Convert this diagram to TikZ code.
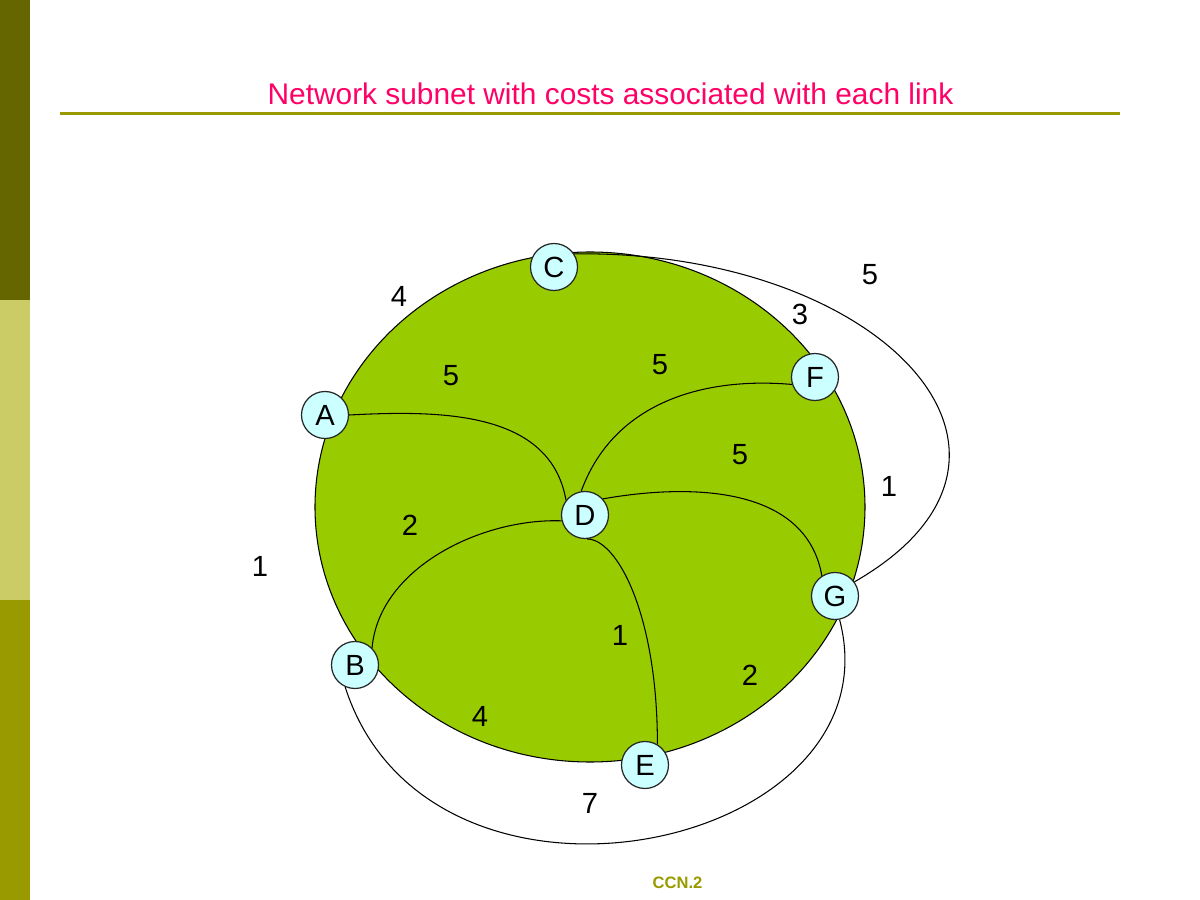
\documentclass[tikz,border=0pt]{standalone}
\usepackage{fontspec}
\setmainfont{Liberation Sans}

\definecolor{barDark}{HTML}{666600}
\definecolor{barLight}{HTML}{CCCC66}
\definecolor{barMid}{HTML}{999900}
\definecolor{titlePink}{HTML}{FF0066}
\definecolor{subnetGreen}{HTML}{99CC00}
\definecolor{routerCyan}{HTML}{CCFFFF}

\tikzset{
    router/.style={circle, draw=black!85, line width=0.35pt, fill=routerCyan,
        minimum size=0.47cm, inner sep=0pt, font=\fontsize{8.3}{9}\selectfont},
    cost/.style={inner sep=0pt, font=\fontsize{8.3}{9}\selectfont},
    link/.style={line width=0.3pt}
}

\begin{document}
\begin{tikzpicture}
    \useasboundingbox (0,0) rectangle (12,9);

    % Side bar and title
    \fill[barDark]  (0,6) rectangle (0.3,9);
    \fill[barLight] (0,3) rectangle (0.3,6);
    \fill[barMid]   (0,0) rectangle (0.3,3);
    \node[anchor=base, text=titlePink, inner sep=0pt, font=\fontsize{8.5}{10}\selectfont]
        (title) at (6.105,7.95) {Network subnet with costs associated with each link};
    \draw[barMid, line width=0.85pt] (0.6,7.867) -- (11.2,7.867);

    % The subnet
    \filldraw[subnetGreen, draw=black, line width=0.3pt] (5.9,3.93) ellipse (2.75 and 2.55);

    % Routers
    \node[router] (C) at (5.54,6.33) {C};
    \node[router] (A) at (3.25,4.85) {A};
    \node[router] (F) at (8.15,5.23) {F};
    \node[router] (D) at (5.85,3.85) {D};
    \node[router] (G) at (8.35,3.04) {G};
    \node[router] (B) at (3.55,2.35) {B};
    \node[router] (E) at (6.45,1.35) {E};

    % Links through D
    \draw[link] (A.east) to[out=3, in=100] (D.142);
    \draw[link] (D.99) to[out=70, in=175] (F.198);
    \draw[link] (D.42) to[out=10, in=100] (G.123);
    \draw[link] (D.194) to[out=178, in=85, looseness=0.9] (B.45);
    \draw[link] (D.-85) .. controls +(0.3,0) and +(0,1.3) .. (E.59);

    % Outer links
    \draw[link] (C.33) .. controls +(3.06,0.04) and +(2.21,1.27) .. (G.36);
    \draw[link] (G.281) .. controls +(0.605,-2.31) and +(0.846,-2.635) .. (B.246);

    % Costs
    \node[cost] (c-cg) at (8.70,6.25) {5};
    \node[cost] (c-cf) at (8.00,5.86) {3};
    \node[cost] (c-ca) at (3.99,6.04) {4};
    \node[cost] (c-ad) at (4.51,5.24) {5};
    \node[cost] (c-df) at (6.60,5.35) {5};
    \node[cost] (c-dg) at (7.40,4.45) {5};
    \node[cost] (c-fg) at (8.89,4.14) {1};
    \node[cost] (c-bd) at (4.10,3.75) {2};
    \node[cost] (c-ab) at (2.60,3.34) {1};
    \node[cost] (c-de) at (6.20,2.65) {1};
    \node[cost] (c-eg) at (7.50,2.25) {2};
    \node[cost] (c-be) at (4.80,1.84) {4};
    \node[cost] (c-bg) at (5.90,0.97) {7};

    % Footer
    \node[text=barMid, inner sep=0pt, font=\fontsize{4.7}{5}\selectfont\bfseries]
        (footer) at (6.775,0.17) {CCN.2};
\end{tikzpicture}
\end{document}
